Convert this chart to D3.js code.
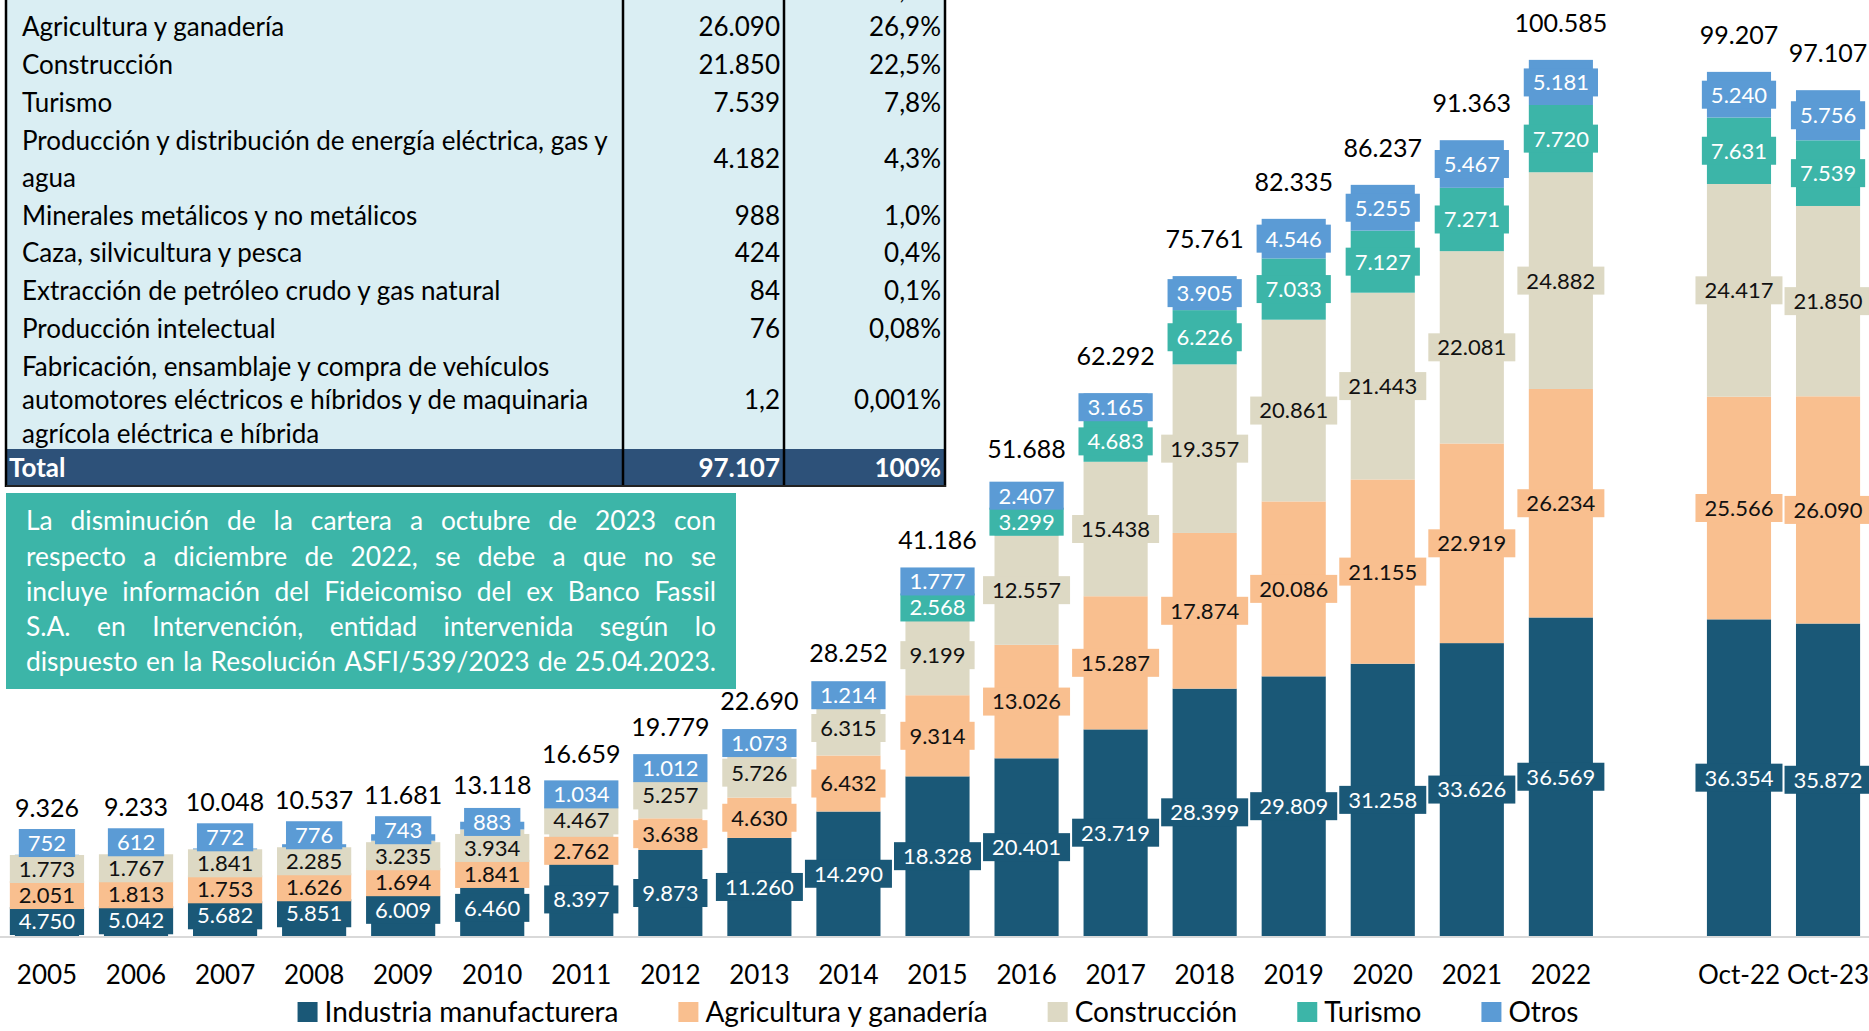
<!DOCTYPE html>
<html><head><meta charset="utf-8">
<script src="https://cdn.jsdelivr.net/npm/d3@7"></script>
<style>
body{margin:0;background:#fff;}
svg{display:block;}
text{font-family:Lato,"Open Sans",sans-serif;}
</style>
</head><body>
<svg id="c" width="1869" height="1031"></svg>
<script>
// ---------- data ----------
const categories = ["2005","2006","2007","2008","2009","2010","2011","2012","2013","2014","2015","2016","2017","2018","2019","2020","2021","2022","Oct-22","Oct-23"];
const industria    = [4750,5042,5682,5851,6009,6460,8397,9873,11260,14290,18328,20401,23719,28399,29809,31258,33626,36569,36354,35872];
const agricultura  = [2051,1813,1753,1626,1694,1841,2762,3638,4630,6432,9314,13026,15287,17874,20086,21155,22919,26234,25566,26090];
const construccion = [1773,1767,1841,2285,3235,3934,4467,5257,5726,6315,9199,12557,15438,19357,20861,21443,22081,24882,24417,21850];
const turismo      = [0,0,0,0,0,0,0,0,0,0,2568,3299,4683,6226,7033,7127,7271,7720,7631,7539];
const otros        = [752,612,772,776,743,883,1034,1012,1073,1214,1777,2407,3165,3905,4546,5255,5467,5181,5240,5756];
const totales      = [9326,9233,10048,10537,11681,13118,16659,19779,22690,28252,41186,51688,62292,75761,82335,86237,91363,100585,99207,97107];
const seriesNames  = ["Industria manufacturera","Agricultura y ganadería","Construcción","Turismo","Otros"];

const tableSectors = [
  ["Industria manufacturera"],
  ["Agricultura y ganadería"],
  ["Construcción"],
  ["Turismo"],
  ["Producción y distribución de energía eléctrica, gas y","agua"],
  ["Minerales metálicos y no metálicos"],
  ["Caza, silvicultura y pesca"],
  ["Extracción de petróleo crudo y gas natural"],
  ["Producción intelectual"],
  ["Fabricación, ensamblaje y compra de vehículos","automotores eléctricos e híbridos y de maquinaria","agrícola eléctrica e híbrida"]
];
const tableAmounts = ["35.872","26.090","21.850","7.539","4.182","988","424","84","76","1,2"];
const tableShares  = ["36,9%","26,9%","22,5%","7,8%","4,3%","1,0%","0,4%","0,1%","0,08%","0,001%"];
const tableTotal   = ["Total","97.107","100%"];

const noteLines = [
  "La disminución de la cartera a octubre de 2023 con",
  "respecto a diciembre de 2022, se debe a que no se",
  "incluye información del Fideicomiso del ex Banco Fassil",
  "S.A. en Intervención, entidad intervenida según lo",
  "dispuesto en la Resolución ASFI/539/2023 de 25.04.2023."
];

// ---------- styles ----------
const colors = ["#1a5877","#f9bf8f","#ddd9c4","#3cb5a8","#5b9bd5"];
const labelColors = ["#ffffff","#111111","#111111","#ffffff","#ffffff"];

const svg = d3.select("#c");
const W = 1869, baseY = 936;
const loc = d3.formatLocale({decimal:",",thousands:".",grouping:[3],currency:["",""]});
const fmt = loc.format(",");

// ---------- scales ----------
const slots = [...categories.slice(0,18), "__gap__", ...categories.slice(18)];
const x = d3.scaleBand().domain(slots).range([6, W]).paddingInner(0.28).paddingOuter(0.1);
const y = d3.scaleLinear().domain([0, 107460]).range([baseY, 0]);

const rows = categories.map((c,i)=>{
  const o = {cat:c};
  const arrs = [industria,agricultura,construccion,turismo,otros];
  seriesNames.forEach((k,j)=>o[k]=arrs[j][i]);
  return o;
});
const stacked = d3.stack().keys(seriesNames)(rows);

// ---------- bars ----------
const gBars = svg.append("g");
stacked.forEach((layer,j)=>{
  gBars.selectAll(null).data(layer.filter(d=>d[1]-d[0]>0)).enter().append("rect")
    .attr("x", d=>x(d.data.cat))
    .attr("y", d=>y(d[1]))
    .attr("width", x.bandwidth())
    .attr("height", d=>y(d[0])-y(d[1]))
    .attr("fill", colors[j]);
});

// ---------- axis ----------
svg.append("line").attr("x1",0).attr("x2",W).attr("y1",baseY+1).attr("y2",baseY+1)
  .attr("stroke","#d9d9d9").attr("stroke-width",2);
const axis = svg.append("g").attr("transform",`translate(0,${baseY})`)
  .call(d3.axisBottom(x).tickValues(categories).tickSize(0).tickPadding(30));
axis.select(".domain").remove();
axis.selectAll("text").attr("font-size",26).attr("fill","#000")
  .style("font-family","Lato,'Open Sans',sans-serif");

// ---------- label layout (center + de-overlap) ----------
const H = 26;
const labelPos = categories.map((c,i)=>{
  const items = [];
  stacked.forEach((layer,j)=>{
    const d = layer[i];
    if (d[1]-d[0] > 0) items.push({j, c:(y(d[0])+y(d[1]))/2});
  });
  const clusters = [];
  items.forEach(it=>{
    clusters.push({items:[it], sum:it.c});
    while (clusters.length>1){
      const a = clusters[clusters.length-2], b = clusters[clusters.length-1];
      const am = a.sum/a.items.length, bm = b.sum/b.items.length;
      const aTop = am - (a.items.length-1)*H/2;
      const bBot = bm + (b.items.length-1)*H/2;
      if (aTop - bBot < H){
        clusters.pop(); clusters.pop();
        clusters.push({items:a.items.concat(b.items), sum:a.sum+b.sum});
      } else break;
    }
  });
  const pos = {};
  clusters.forEach(cl=>{
    const n = cl.items.length, m = cl.sum/n;
    cl.items.forEach((it,k)=>{ pos[it.j] = m + ((n-1)/2 - k)*H; });
  });
  return pos;
});

// ---------- data labels ----------
const gLab = svg.append("g");
stacked.forEach((layer,j)=>{
  layer.forEach((d,i)=>{
    const v = d[1]-d[0];
    if (v<=0) return;
    const cx = x(categories[i]) + x.bandwidth()/2;
    const cy = labelPos[i][j];
    const g = gLab.append("g").attr("transform",`translate(${cx},${cy})`);
    const r = g.append("rect").attr("fill",colors[j]);
    const t = g.append("text").attr("text-anchor","middle").attr("dy","0.36em")
      .attr("font-size",22).attr("fill",labelColors[j]).text(fmt(v));
    const w = t.node().getComputedTextLength();
    r.attr("x",-w/2-9).attr("y",-14).attr("width",w+18).attr("height",28);
  });
});

// ---------- totals ----------
svg.append("g").selectAll(null).data(categories).enter().append("text")
  .attr("x", c=>x(c)+x.bandwidth()/2)
  .attr("y", (c,i)=>{
    const topLab = Math.min(...Object.values(labelPos[i]));
    return Math.min(y(totales[i]) - 37, topLab - 35);
  })
  .attr("dy","0.36em").attr("text-anchor","middle").attr("font-size",25).attr("fill","#000")
  .text((c,i)=>fmt(totales[i]));

// ---------- legend ----------
const gLeg = svg.append("g");
let lx = 0;
const legGap = 60;
seriesNames.forEach((n,j)=>{
  const g = gLeg.append("g");
  g.append("rect").attr("x",0).attr("y",-10).attr("width",20).attr("height",20).attr("fill",colors[j]);
  const t = g.append("text").attr("x",27).attr("dy","0.36em").attr("font-size",28).attr("fill","#000").text(n);
  const w = 27 + t.node().getComputedTextLength();
  g.attr("transform",`translate(${lx},0)`);
  lx += w + legGap;
});
const legW = lx - legGap;
gLeg.attr("transform",`translate(${938 - legW/2},1012)`);

// ---------- table ----------
const gT = svg.append("g");
const tL = 6, c1 = 623, c2 = 784, tR = 945, totTop = 449, totBot = 486;
const tfs = 26;
gT.append("rect").attr("x",tL).attr("y",0).attr("width",tR-tL).attr("height",totTop).attr("fill","#daeef3");
gT.append("rect").attr("x",tL).attr("y",totTop).attr("width",tR-tL).attr("height",totBot-totTop).attr("fill","#2d5179");
let ly = -10.7;
const step = 37.8;
tableSectors.forEach((lines,r)=>{
  const inner = lines.length===3 ? 33.4 : 37;
  const first = ly;
  lines.forEach((ln,k)=>{
    gT.append("text").attr("x", tL+16).attr("y", first + k*inner).attr("dy","0.36em")
      .attr("font-size",tfs).attr("fill","#000").text(ln);
  });
  const mid = first + (lines.length-1)*inner/2;
  gT.append("text").attr("x", c2-4).attr("y", mid).attr("dy","0.36em").attr("text-anchor","end")
    .attr("font-size",tfs).attr("fill","#000").text(tableAmounts[r]);
  gT.append("text").attr("x", tR-4).attr("y", mid).attr("dy","0.36em").attr("text-anchor","end")
    .attr("font-size",tfs).attr("fill","#000").text(tableShares[r]);
  ly = first + (lines.length-1)*inner + step;
});
const totY = (totTop+totBot)/2;
gT.append("text").attr("x",tL+3).attr("y",totY).attr("dy","0.36em").attr("font-size",tfs)
  .attr("font-weight","bold").attr("fill","#fff").text(tableTotal[0]);
gT.append("text").attr("x",c2-4).attr("y",totY).attr("dy","0.36em").attr("text-anchor","end").attr("font-size",tfs)
  .attr("font-weight","bold").attr("fill","#fff").text(tableTotal[1]);
gT.append("text").attr("x",tR-4).attr("y",totY).attr("dy","0.36em").attr("text-anchor","end").attr("font-size",tfs)
  .attr("font-weight","bold").attr("fill","#fff").text(tableTotal[2]);
[tL, c1, c2, tR].forEach(xx=>{
  gT.append("line").attr("x1",xx).attr("x2",xx).attr("y1",0).attr("y2",totBot+1)
    .attr("stroke","#000").attr("stroke-width",2.5);
});
gT.append("line").attr("x1",tL).attr("x2",tR+1).attr("y1",totBot).attr("y2",totBot)
  .attr("stroke","#222").attr("stroke-width",2);

// ---------- note box ----------
const gN = svg.append("g");
const nx0 = 6, nx1 = 736, ny0 = 493, ny1 = 689;
gN.append("rect").attr("x",nx0).attr("y",ny0).attr("width",nx1-nx0).attr("height",ny1-ny0).attr("fill","#3cb5a8");
const tx0 = 26, tx1 = 716, lineYs0 = 521, lineStep = 35.25;
let fs = 28;
const probe = gN.append("text").attr("font-size",fs);
let maxW = 0;
noteLines.forEach(l=>{ probe.text(l); maxW = Math.max(maxW, probe.node().getComputedTextLength()); });
probe.remove();
if (maxW > (tx1-tx0)*0.985) fs = fs*(tx1-tx0)*0.985/maxW;
noteLines.forEach((l,k)=>{
  const words = l.split(" ");
  const ly2 = lineYs0 + k*lineStep;
  const ws = words.map(wd=>{
    const t = gN.append("text").attr("y",ly2).attr("dy","0.36em").attr("font-size",fs).attr("fill","#fff").text(wd);
    return {t, w:t.node().getComputedTextLength()};
  });
  const total = d3.sum(ws,d=>d.w);
  const gap = (tx1-tx0-total)/(words.length-1);
  let cx = tx0;
  ws.forEach(o=>{ o.t.attr("x",cx); cx += o.w + gap; });
});
</script>
</body></html>
